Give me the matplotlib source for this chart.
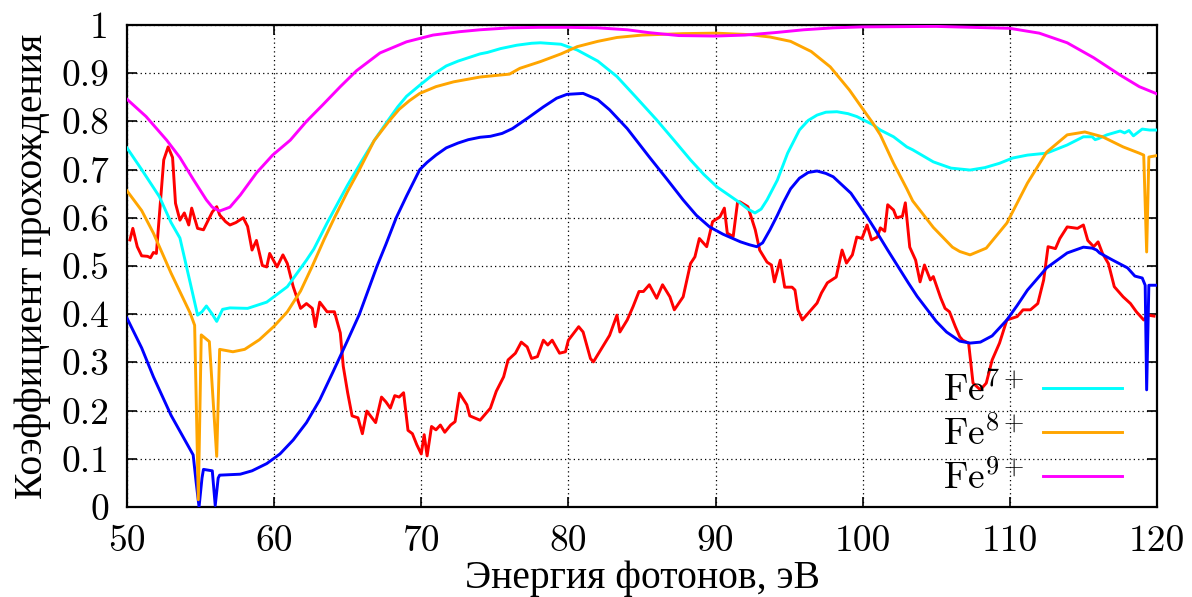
import matplotlib
matplotlib.use("Agg")
import matplotlib.pyplot as plt

# ===== data =====
x_fe7 = [50, 51, 52.2, 53.0, 53.6, 54.3, 54.8, 55.1, 55.4, 55.8, 56.1, 56.5, 57.0, 58.2, 59.5,
         60.9, 62.2, 62.7, 63.6, 64.5, 65.0, 66.0, 66.8, 67.7, 68.4, 69.0, 69.9, 70.8, 71.7,
         72.5, 73.3, 74, 74.5, 75.4, 76.5, 77.5, 78.1, 79.5, 80.6, 82, 83.3, 84.6, 86, 87.2,
         88.3, 89.2, 90.1, 91, 91.66, 92.2, 92.68, 93.1, 93.5, 94.2, 94.9, 95.7, 96.3, 96.9,
         97.5, 98.25, 99.0, 99.6, 100.7, 101.2, 102.1, 103.0, 103.4, 104.8, 106.0, 107.3, 108.3,
         109.3, 110.2, 111.2, 112.5, 113.9, 115.0, 115.6, 115.8, 116.0, 116.6, 117.5, 117.8,
         118.1, 118.4, 119.0, 119.5, 120]
y_fe7 = [0.745, 0.70, 0.644, 0.59, 0.558, 0.465, 0.398, 0.405, 0.417, 0.40, 0.385, 0.41, 0.413,
         0.412, 0.425, 0.457, 0.512, 0.535, 0.589, 0.64, 0.668, 0.72, 0.76, 0.80, 0.83, 0.852,
         0.875, 0.897, 0.915, 0.925, 0.933, 0.94, 0.943, 0.951, 0.958, 0.962, 0.963, 0.96, 0.948,
         0.925, 0.893, 0.85, 0.803, 0.76, 0.72, 0.69, 0.664, 0.645, 0.631, 0.618, 0.61, 0.618,
         0.637, 0.678, 0.734, 0.782, 0.802, 0.813, 0.819, 0.82, 0.816, 0.81, 0.793, 0.782,
         0.768, 0.747, 0.741, 0.716, 0.703, 0.699, 0.704, 0.713, 0.724, 0.73, 0.734, 0.751,
         0.768, 0.768, 0.762, 0.764, 0.772, 0.78, 0.776, 0.781, 0.77, 0.784, 0.782, 0.782]

x_fe8 = [50, 51, 51.8, 53, 54.3, 54.6, 54.85, 55.05, 55.6, 56.1, 56.3, 57.2, 58, 59, 60, 60.9,
         61.8, 62.6, 63.4, 64.1, 65.0, 65.8, 66.8, 67.8, 68.5, 69.2, 69.9, 71, 72.2, 74, 75, 76,
         76.7, 78.1, 79.5, 80.6, 82, 83.3, 85, 87.8, 90, 92.3, 93.7, 95.1, 96.5, 97.8, 99.1,
         100.0, 100.7, 101.2, 102.1, 103.0, 103.4, 104.8, 106.1, 106.6, 107.3, 108.4, 109.8,
         111.2, 112.5, 113.9, 115.1, 116.3, 117.7, 118.8, 119.1, 119.3, 119.45, 120]
y_fe8 = [0.656, 0.615, 0.568, 0.485, 0.402, 0.377, 0.015, 0.357, 0.343, 0.105, 0.327, 0.322,
         0.327, 0.347, 0.375, 0.405, 0.448, 0.50, 0.555, 0.60, 0.655, 0.70, 0.76, 0.80, 0.825,
         0.843, 0.858, 0.872, 0.882, 0.892, 0.895, 0.898, 0.91, 0.924, 0.94, 0.955, 0.966,
         0.974, 0.979, 0.982, 0.983, 0.98, 0.975, 0.966, 0.945, 0.913, 0.865, 0.826, 0.796,
         0.772, 0.713, 0.66, 0.635, 0.58, 0.539, 0.53, 0.523, 0.537, 0.589, 0.672, 0.736,
         0.772, 0.778, 0.768, 0.747, 0.734, 0.73, 0.529, 0.726, 0.729]

x_fe9 = [50, 51.3, 52.7, 53.6, 54.5, 55.4, 55.8, 56.3, 57.0, 57.7, 58.8, 59.9, 61.1, 62.2,
         63.3, 64.5, 65.6, 67.2, 69.0, 70.8, 72.6, 74, 76, 78, 80, 82, 84, 85.5, 87.5, 90, 92,
         94, 96, 98, 100, 105, 110, 112.0, 113.9, 115.7, 117.5, 118.8, 120]
y_fe9 = [0.846, 0.81, 0.761, 0.725, 0.68, 0.637, 0.622, 0.614, 0.622, 0.647, 0.693, 0.73,
         0.761, 0.80, 0.834, 0.872, 0.905, 0.942, 0.965, 0.979, 0.986, 0.99, 0.994, 0.995,
         0.995, 0.994, 0.99, 0.984, 0.978, 0.977, 0.979, 0.984, 0.99, 0.994, 0.996, 0.997,
         0.993, 0.983, 0.963, 0.932, 0.896, 0.872, 0.857]

x_blue = [50, 51, 51.8, 53, 54.5, 54.7, 54.9, 55.1, 55.2, 55.8, 56.0, 56.2, 56.3, 57.7, 58.5,
          59.5, 60.4, 61.3, 62.2, 63.1, 64, 65, 65.8, 66.4, 67.0, 67.6, 68.3, 69.0, 69.9, 70.4,
          71.0, 71.7, 72.5, 73.2, 74, 74.7, 75.5, 76.2, 77.2, 78.3, 79.2, 79.9, 81, 82, 82.8,
          84, 85.5, 86.7, 87.8, 88.7, 89.6, 90.5, 91.7, 92.3, 92.8, 93.2, 93.7, 94.2, 94.6,
          95.1, 95.7, 96.3, 96.9, 97.5, 98.0, 98.6, 99.2, 100.3, 101.0, 101.7, 102.4, 103.1,
          103.7, 104.4, 105.0, 105.7, 106.6, 107.3, 108.0, 108.8, 109.8, 110.5, 111.2, 112.5,
          113.9, 115.0, 115.6, 115.9, 116.1, 117.0, 118.0, 118.5, 119.0, 119.2, 119.3, 119.45,
          120]
y_blue = [0.392, 0.33, 0.27, 0.19, 0.108, 0.052, 0.0, 0.06, 0.078, 0.075, 0.003, 0.06, 0.066,
          0.068, 0.075, 0.09, 0.11, 0.139, 0.175, 0.222, 0.28, 0.346, 0.40, 0.45, 0.50, 0.545,
          0.60, 0.645, 0.70, 0.715, 0.73, 0.745, 0.755, 0.762, 0.767, 0.769, 0.775, 0.785,
          0.806, 0.83, 0.848, 0.856, 0.858, 0.845, 0.824, 0.785, 0.726, 0.68, 0.637, 0.605,
          0.581, 0.566, 0.55, 0.544, 0.54, 0.548, 0.575, 0.605, 0.631, 0.66, 0.682, 0.694,
          0.697, 0.692, 0.685, 0.668, 0.651, 0.602, 0.568, 0.533, 0.499, 0.465, 0.437, 0.409,
          0.385, 0.363, 0.344, 0.34, 0.342, 0.355, 0.388, 0.418, 0.45, 0.496, 0.527, 0.539,
          0.537, 0.533, 0.527, 0.512, 0.496, 0.479, 0.475, 0.46, 0.243, 0.46, 0.46]

x_red = [50.2, 50.4, 50.7, 51.0, 51.4, 51.6, 51.8, 52.0, 52.5, 52.8, 53.1, 53.3, 53.6, 53.9,
         54.2, 54.4, 54.8, 55.2, 55.8, 56.1, 56.3, 56.7, 57.0, 57.4, 57.9, 58.2, 58.5, 58.8,
         59.2, 59.5, 59.7, 60.2, 60.6, 60.9, 61.3, 61.8, 62.2, 62.6, 62.8, 63.1, 63.6, 64.1,
         64.5, 64.7, 65.0, 65.3, 65.7, 66.0, 66.3, 66.9, 67.3, 67.6, 67.9, 68.2, 68.5, 68.8,
         69.1, 69.4, 69.7, 70.0, 70.2, 70.4, 70.7, 71.0, 71.3, 71.6, 72.0, 72.3, 72.6, 73.1,
         73.3, 74.0, 74.7, 75.1, 75.6, 75.9, 76.4, 76.8, 77.2, 77.5, 77.9, 78.3, 78.6, 78.9,
         79.4, 79.8, 80.0, 80.7, 81.0, 81.5, 81.7, 82.4, 82.8, 83.3, 83.5, 84.0, 84.4, 84.8,
         85.1, 85.5, 86.0, 86.4, 86.9, 87.2, 87.8, 88.3, 88.6, 88.9, 89.4, 89.8, 90.3, 90.6,
         90.8, 91.2, 91.5, 91.66, 92.2, 92.7, 93.0, 93.5, 93.8, 94.0, 94.4, 94.7, 95.2, 95.4,
         95.6, 95.9, 96.3, 96.9, 97.2, 97.6, 98.2, 98.6, 98.9, 99.3, 99.6, 99.95, 100.3, 100.6,
         101.0, 101.2, 101.5, 101.7, 102.1, 102.3, 102.7, 102.9, 103.2, 103.6, 103.9, 104.2,
         104.6, 104.8, 105.3, 105.6, 105.9, 106.3, 106.6, 106.8, 107.2, 107.5, 108.0, 108.4,
         108.8, 109.3, 109.8, 110.5, 110.9, 111.4, 111.9, 112.3, 112.6, 113.1, 113.4, 113.9,
         114.6, 115.0, 115.3, 115.7, 116.0, 116.3, 116.7, 117.1, 117.7, 118.2, 118.6, 119.1,
         119.4, 119.8]
y_red = [0.554, 0.578, 0.54, 0.521, 0.52, 0.517, 0.528, 0.526, 0.72, 0.747, 0.725, 0.63, 0.595,
         0.61, 0.585, 0.62, 0.578, 0.575, 0.612, 0.623, 0.606, 0.592, 0.585, 0.59, 0.6, 0.582,
         0.533, 0.553, 0.501, 0.498, 0.526, 0.498, 0.523, 0.505, 0.457, 0.412, 0.422, 0.412,
         0.374, 0.425, 0.405, 0.405, 0.361, 0.292, 0.237, 0.189, 0.185, 0.152, 0.199, 0.175,
         0.228, 0.218, 0.205, 0.231, 0.228, 0.237, 0.159, 0.152, 0.129, 0.11, 0.15, 0.106,
         0.167, 0.16, 0.17, 0.155, 0.17, 0.177, 0.236, 0.212, 0.189, 0.18, 0.205, 0.24, 0.27,
         0.305, 0.319, 0.342, 0.332, 0.308, 0.312, 0.346, 0.336, 0.346, 0.319, 0.322, 0.346,
         0.374, 0.363, 0.308, 0.301, 0.336, 0.356, 0.398, 0.363, 0.388, 0.416, 0.447, 0.447,
         0.461, 0.433, 0.461, 0.436, 0.409, 0.436, 0.505, 0.519, 0.557, 0.54, 0.592, 0.602,
         0.62, 0.568, 0.561, 0.633, 0.633, 0.623, 0.575, 0.533, 0.508, 0.502, 0.467, 0.512,
         0.456, 0.456, 0.45, 0.409, 0.388, 0.402, 0.423, 0.444, 0.465, 0.477, 0.533, 0.506,
         0.523, 0.56, 0.557, 0.585, 0.554, 0.56, 0.579, 0.572, 0.627, 0.616, 0.6, 0.603, 0.631,
         0.539, 0.512, 0.467, 0.502, 0.471, 0.478, 0.434, 0.412, 0.405, 0.374, 0.353, 0.346,
         0.34, 0.257, 0.243, 0.257, 0.305, 0.34, 0.388, 0.395, 0.409, 0.409, 0.422, 0.471,
         0.54, 0.536, 0.557, 0.581, 0.578, 0.585, 0.553, 0.54, 0.55, 0.526, 0.505, 0.457,
         0.436, 0.422, 0.405, 0.388, 0.398, 0.396]

x_ticks = [50, 60, 70, 80, 90, 100, 110, 120]
y_ticks = [0, 0.1, 0.2, 0.3, 0.4, 0.5, 0.6, 0.7, 0.8, 0.9, 1]
y_ticklabels = ["0", "0.1", "0.2", "0.3", "0.4", "0.5", "0.6", "0.7", "0.8", "0.9", "1"]

labels = [r"Fe$^{7+}$", r"Fe$^{8+}$", r"Fe$^{9+}$"]

# ===== style =====
plt.rcParams["font.family"] = ["cmr10", "Liberation Serif"]
plt.rcParams["mathtext.fontset"] = "cm"
plt.rcParams["axes.formatter.use_mathtext"] = True
plt.rcParams["axes.unicode_minus"] = False

CYR = ["Liberation Serif"]
FS_TICK = 27
FS_LAB = 28.5
FS_LEG = 27

fig = plt.figure(figsize=(11.92, 5.97), dpi=100)
ax = fig.add_axes([0.1065, 0.1508, 0.8641, 0.8074])

lw = 2.1
ax.plot(x_red, y_red, color="#ff0000", lw=lw, zorder=3)
ax.plot(x_blue, y_blue, color="#0000ff", lw=lw, zorder=3)
ax.plot(x_fe7, y_fe7, color="#00ffff", lw=lw, zorder=3, label=labels[0])
ax.plot(x_fe8, y_fe8, color="#ffa500", lw=lw, zorder=3, label=labels[1])
ax.plot(x_fe9, y_fe9, color="#ff00ff", lw=lw, zorder=3, label=labels[2])

ax.set_xlim(50, 120)
ax.set_ylim(0, 1)
ax.set_xticks(x_ticks)
ax.set_xticklabels([str(v) for v in x_ticks])
ax.set_yticks(y_ticks)
ax.set_yticklabels(y_ticklabels)

ax.tick_params(direction="in", length=7, width=1.2, top=True, right=True,
               labelsize=FS_TICK)
ax.tick_params(axis="x", pad=13)
ax.tick_params(axis="y", pad=13)
ax.grid(True, color="black", lw=0.9, linestyle=(0, (1, 2.5)), zorder=1)
for s in ax.spines.values():
    s.set_linewidth(1.6)

ax.set_xlabel("Энергия фотонов, эВ", family=CYR, fontsize=FS_LAB, labelpad=1)
ax.set_ylabel("Коэффициент прохождения", family=CYR, fontsize=FS_LAB, labelpad=7)

ax.legend(loc="lower right", bbox_to_anchor=(0.984, -0.017), frameon=False,
          markerfirst=False, fontsize=FS_LEG, handlelength=2.1, handletextpad=0.5,
          labelspacing=0.2, borderpad=0)

fig.savefig("out.png", dpi=100)
